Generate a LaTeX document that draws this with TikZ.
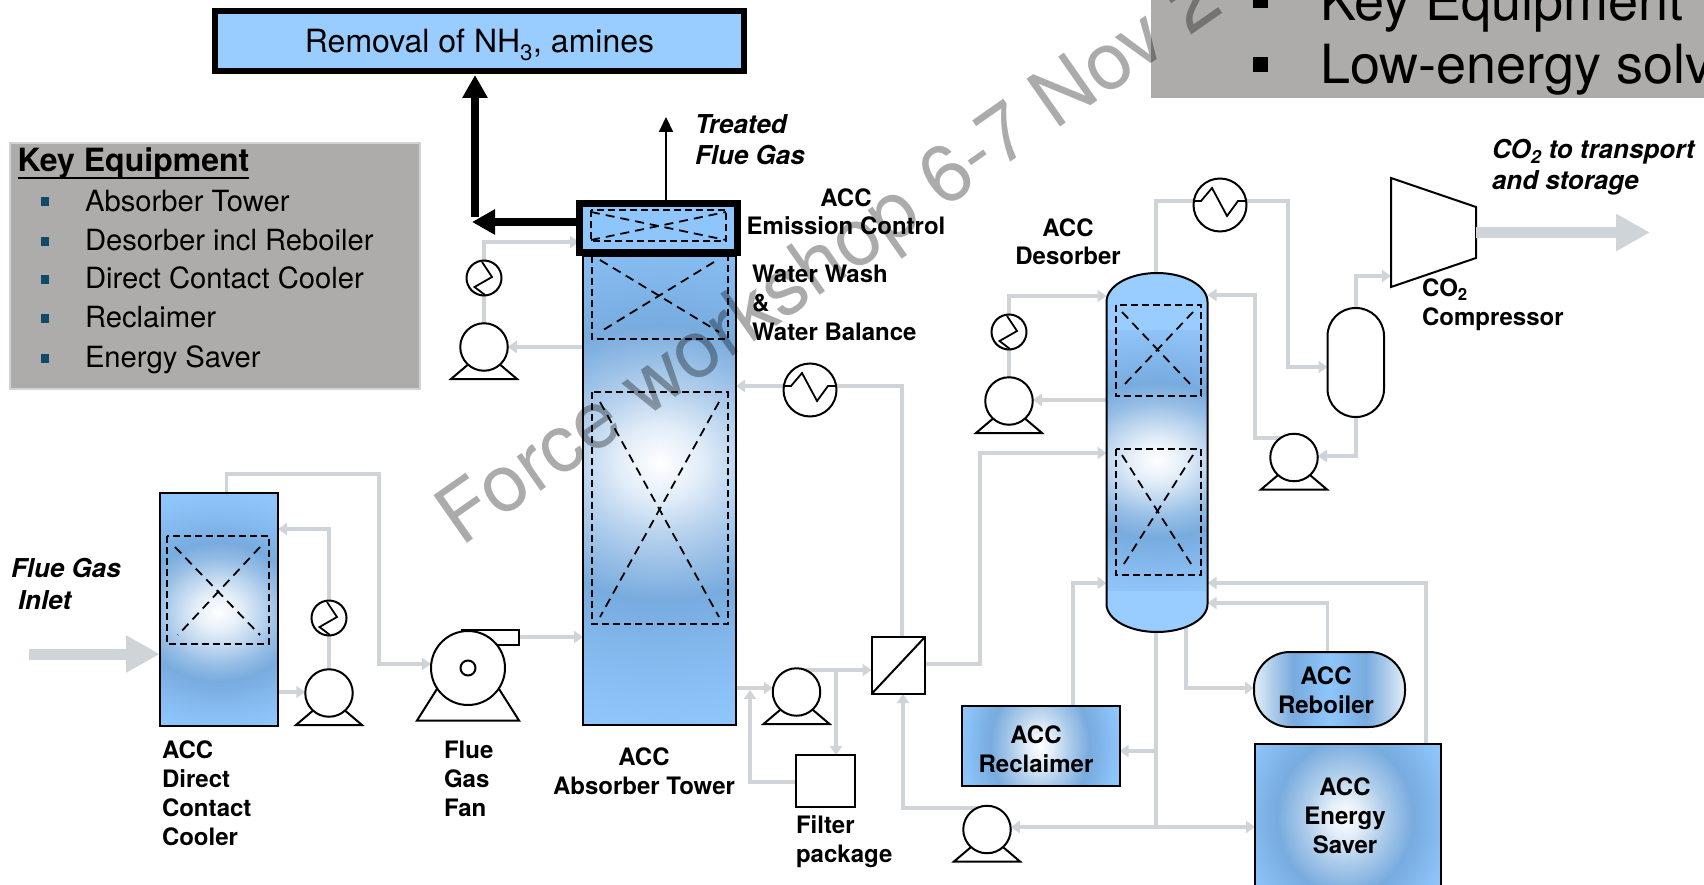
\documentclass[tikz,border=0pt]{standalone}
\usepackage{fontspec}
\setmainfont{TeX Gyre Heros}
\usetikzlibrary{arrows.meta}
\definecolor{midblue}{HTML}{78ABDE}
\definecolor{outblue}{HTML}{8EC6FC}
\definecolor{paleblue}{HTML}{99CCFF}
\definecolor{bandblue}{HTML}{90C4F8}
\definecolor{pipegray}{HTML}{CFD4D8}
\definecolor{panelgray}{HTML}{ADACAA}
\definecolor{bullet}{HTML}{0F4A66}
\pgfdeclareradialshading{towerglow}{\pgfpointorigin}{color(0bp)=(white);color(3.5bp)=(white!78!midblue);color(7bp)=(white!45!midblue);color(10bp)=(white!22!midblue);color(13bp)=(midblue);color(17bp)=(midblue!60!outblue);color(25bp)=(outblue);color(100bp)=(outblue)}
\pgfdeclareradialshading{coolerglow}{\pgfpointorigin}{color(0bp)=(white);color(4bp)=(white!80!midblue);color(8bp)=(white!48!midblue);color(11bp)=(white!22!midblue);color(14.5bp)=(midblue);color(19bp)=(midblue!50!outblue);color(25bp)=(outblue);color(100bp)=(outblue)}
\pgfdeclareradialshading{desorberglow}{\pgfpointorigin}{color(0bp)=(white);color(4bp)=(white!80!midblue);color(8bp)=(white!48!midblue);color(11bp)=(white!22!midblue);color(15bp)=(midblue);color(20bp)=(midblue!50!bandblue);color(25bp)=(bandblue);color(100bp)=(bandblue)}
\pgfdeclareradialshading{boxglow}{\pgfpointorigin}{color(0bp)=(white);color(4bp)=(white!78!midblue);color(9bp)=(white!40!midblue);color(15.5bp)=(midblue);color(25bp)=(outblue);color(100bp)=(outblue)}
\pgfdeclarehorizontalshading{reboilerglow}{100bp}{color(0bp)=(white!80!midblue);color(25bp)=(white!80!midblue);color(31bp)=(white!40!midblue);color(38bp)=(midblue);color(50bp)=(outblue);color(62bp)=(midblue);color(69bp)=(white!40!midblue);color(75bp)=(white!80!midblue);color(100bp)=(white!80!midblue)}
\pgfdeclarelayer{pipes}
\pgfsetlayers{pipes,main}
\tikzset{
  eq/.style={draw=black,line width=2pt,inner sep=0pt,outer sep=0pt},
  ghost/.style={inner sep=0pt,outer sep=0pt},
  packing/.style={draw=black,line width=2pt,dash pattern=on 7pt off 4pt},
  cross/.style={draw=black,line width=1.8pt,dash pattern=on 9pt off 6pt},
  pipe/.style={draw=pipegray,line width=3.5pt,line join=miter},
  flow/.style={pipe,-{Triangle[length=9pt,width=12pt]}},
  gas/.style={draw=pipegray,line width=11pt,-{Triangle[length=34pt,width=35pt]}},
  heavy/.style={draw=black,line width=8pt,-{Triangle[length=23pt,width=24pt]}},
  lbl/.style={inner sep=0pt,outer sep=0pt,font=\fontsize{24}{28.7}\selectfont\bfseries},
  lbli/.style={inner sep=0pt,outer sep=0pt,font=\fontsize{26}{31.5}\selectfont\bfseries\itshape},
  item/.style={inner sep=0pt,outer sep=0pt,anchor=base west,font=\fontsize{29.2}{34}\selectfont},
  bigtext/.style={inner sep=0pt,outer sep=0pt,anchor=base west,font=\fontsize{54}{60}\selectfont},
}
\newcommand{\pumpunit}[3]{%
  \draw[eq,fill=white] (#2-33,#3+32) -- (#2+33,#3+32) -- (#2,#3+4) -- cycle;
  \node[eq,fill=white,circle,minimum size=47.5pt] (#1) at (#2,#3) {};}
\newcommand{\smallhx}[3]{%
  \node[eq,fill=white,circle,minimum size=35pt] (#1) at (#2,#3) {};
  \draw[black,line width=1.8pt] (#2-2,#3-16) -- (#2+8,#3-1) -- (#2-9.5,#3+9) -- (#2+1,#3+17);}
\newcommand{\bighx}[3]{%
  \node[eq,fill=white,circle,minimum size=53pt] (#1) at (#2,#3) {};
  \draw[black,line width=1.8pt] (#2-25,#3-4) -- (#2-19,#3-4) -- (#2-8,#3-17) -- (#2+7,#3+11) -- (#2+18,#3-4) -- (#2+25,#3-4);}
\begin{document}
\begin{tikzpicture}[x=1pt,y=-1pt]
\useasboundingbox (0,0) rectangle (1704,885);
\clip (0,0) rectangle (1704,885);

% top panels
\node[ghost,fill=panelgray,minimum width=560pt,minimum height=108pt] (toppanel) at (1431,44) {};
\fill[black] (1253,-4) rectangle (1268,8);
\fill[black] (1253,57) rectangle (1268,72);
\node[bigtext] (topa) at (1320,21) {Key Equipment};
\node[bigtext] (topb) at (1320,84) {Low-energy solv};

\node[draw=black,line width=6pt,fill=paleblue,inner sep=0pt,outer sep=0pt,minimum width=529pt,minimum height=60pt,text height=24pt,text depth=0pt,font=\fontsize{32}{38}\selectfont] (removal) at (479.5,41) {Removal of NH\textsubscript{3}, amines};

% key equipment panel
\node[draw=pipegray,line width=2.5pt,fill=panelgray,inner sep=0pt,outer sep=0pt,minimum width=410pt,minimum height=246pt] (keybox) at (215,266) {};
\node[inner sep=0pt,outer sep=0pt,anchor=base west,font=\fontsize{32}{38}\selectfont\bfseries] (keytitle) at (17.5,172) {Key Equipment};
\draw[black,line width=2.5pt] ([yshift=-6pt]keytitle.base west) -- ([yshift=-6pt]keytitle.base east);
\foreach \yy in {202,242,279,318,358} {\fill[bullet] (41,\yy-4.5) rectangle (49,\yy+4.5);}
\node[item] (ka) at (85,212) {Absorber Tower};
\node[item] (kb) at (85,251) {Desorber incl Reboiler};
\node[item] (kc) at (85,288) {Direct Contact Cooler};
\node[item] (kd) at (85,327) {Reclaimer};
\node[item] (ke) at (85,367) {Energy Saver};

% direct contact cooler
\begin{scope}
\clip (160,493) rectangle (278,726);
\shade[shading=coolerglow] (78,492) rectangle (358,732);
\end{scope}
\node[eq,minimum width=118pt,minimum height=233pt] (dcc) at (219,609.5) {};
\draw[packing] (167,536) rectangle (269,644);
\draw[cross] (175,547) -- (260,635);
\draw[cross] (260,547) -- (178,635);

% absorber
\begin{scope}
\clip (583,256) rectangle (736,725);
\shade[shading=towerglow] (360,198) rectangle (960,728);
\end{scope}
\node[eq,minimum width=153pt,minimum height=469pt] (absorber) at (659.5,490.5) {};
\draw[packing] (592,256) -- (592,339) -- (727.5,339) -- (727.5,256);
\draw[cross] (600,260) -- (719,332);
\draw[cross] (714,262) -- (600,332);
\draw[packing] (592,392) rectangle (727.5,624);
\draw[cross] (600,402) -- (719,617);
\draw[cross] (719,402) -- (600,617);
\node[draw=black,line width=7pt,fill=outblue,inner sep=0pt,outer sep=0pt,minimum width=158pt,minimum height=49pt] (emission) at (658,228) {};
\draw[packing] (591,210) rectangle (726,241);
\draw[cross] (591,212) -- (726,240);
\draw[cross] (591,240) -- (726,212);

% desorber
\node[ghost,minimum width=101pt,minimum height=359pt] (desorber) at (1157,452.5) {};
\begin{scope}
\clip (1106.5,302) arc[start angle=180,end angle=0,x radius=50.5pt,y radius=29pt] -- (1207.5,604) arc[start angle=0,end angle=-180,x radius=50.5pt,y radius=28pt] -- cycle;
\fill[paleblue] (1100,270) rectangle (1214,640);
\shade[shading=desorberglow] (987,330) rectangle (1327,590);
\end{scope}
\draw[eq] (1106.5,302) arc[start angle=180,end angle=0,x radius=50.5pt,y radius=29pt] -- (1207.5,604) arc[start angle=0,end angle=-180,x radius=50.5pt,y radius=28pt] -- cycle;
\draw[packing] (1115.5,305) rectangle (1200.5,396);
\draw[cross] (1122,312) -- (1193,387);
\draw[cross] (1193,312) -- (1122,387);
\draw[packing] (1115.5,449) rectangle (1200.5,575);
\draw[cross] (1122,455) -- (1193,567);
\draw[cross] (1193,455) -- (1122,567);

% reboiler, reclaimer, energy saver
\begin{scope}
\clip[rounded corners=36pt] (1254,652) rectangle (1405,727);
\shade[shading=reboilerglow] (1254,652) rectangle (1405,727);
\end{scope}
\node[eq,rounded corners=36pt,minimum width=151pt,minimum height=75pt] (reboiler) at (1329.5,689.5) {};
\begin{scope}
\clip (962,706) rectangle (1119.5,786);
\shade[shading=boxglow] (960,636) rectangle (1120,856);
\end{scope}
\node[eq,minimum width=157.5pt,minimum height=80pt] (reclaimer) at (1040.75,746) {};
\begin{scope}
\clip (1255,744) rectangle (1441,900);
\shade[shading=boxglow] (1235,692) rectangle (1455,942);
\end{scope}
\node[eq,minimum width=186pt,minimum height=156pt] (saver) at (1348,822) {};

% rotating equipment and exchangers
\pumpunit{pumpa}{329}{693}
\pumpunit{pumpb}{484}{347}
\pumpunit{pumpc}{796.5}{692}
\pumpunit{pumpd}{1009}{401}
\pumpunit{pumpe}{1294}{457.5}
\pumpunit{pumpf}{987}{829.5}
\smallhx{hxa}{329}{618}
\smallhx{hxb}{484}{278}
\smallhx{hxc}{1009}{332}
\bighx{hxd}{810}{390}
\bighx{hxe}{1220}{205}
% fan
\draw[eq,fill=white] (417,720.5) -- (519,720.5) -- (468,640) -- cycle;
\node[eq,fill=white,minimum width=57pt,minimum height=15pt] (fanout) at (490.5,637.5) {};
\node[eq,fill=white,circle,minimum size=74pt] (fan) at (468,668) {};
\node[eq,fill=white,circle,minimum size=15pt] (fanhub) at (468,668) {};
% membrane, filter, separator, compressor
\node[eq,fill=white,minimum width=53.5pt,minimum height=57pt] (membrane) at (898.25,665.5) {};
\draw[black,line width=2pt] (membrane.south west) -- (membrane.north east);
\node[eq,fill=white,minimum width=59pt,minimum height=52pt] (filter) at (825.5,781) {};
\node[eq,fill=white,rounded corners=28pt,minimum width=56.5pt,minimum height=109pt] (separator) at (1355.75,362.5) {};
\coordinate (compa) at (1391,178);
\coordinate (compb) at (1476,207);
\coordinate (compc) at (1476,258);
\coordinate (compd) at (1391,287);
\draw[eq,fill=white] (compa) -- (compb) -- (compc) -- (compd) -- cycle;

% connectors
\begin{pgfonlayer}{pipes}
\draw[flow] (dcc.north -| 226.5,0) |- (379,474) |- (fan.west |- 0,664);
\draw[flow] (dcc.east |- 0,692) -- (pumpa.west |- 0,692);
\draw[pipe] (pumpa) -- (hxa);
\draw[flow] (hxa) |- (dcc.east |- 0,529);
\draw[flow] (fanout.east |- 0,637) -- (absorber.west |- 0,637);
\draw[flow] (absorber.east |- 0,688) -- (pumpc.west |- 0,688);
\draw[flow] (filter.west |- 0,782) -| (750,690);
\draw[flow] (pumpc.center |- 0,670) -- (membrane.west |- 0,670);
\draw[flow] (836,670) -- (filter.north -| 836,0);
\draw[pipe] (membrane.north -| 902,0) |- (hxd.east |- 0,386);
\draw[flow] (hxd.west |- 0,386) -- (absorber.east |- 0,386);
\draw[flow] (membrane.east |- 0,664) -| (980,453) -- (desorber.west |- 0,453);
\draw[flow] (pumpf.center |- 0,808) -| (membrane.south -| 903,0);
\draw[pipe] (desorber.south -| 1156,0) -- (1156,827);
\draw[flow] (1156,827) -- (pumpf.east |- 0,827);
\draw[flow] (1156,827) -- (saver.west |- 0,827);
\draw[flow] (1156,751) -- (reclaimer.east |- 0,751);
\draw[flow] (reclaimer.north -| 1073,0) |- (desorber.west |- 0,583);
\draw[flow] (1186,625) |- (reboiler.west |- 0,688);
\draw[flow] (reboiler.north -| 1327.5,0) |- (desorber.east |- 0,603);
\draw[flow] (saver.north -| 1426,0) |- (desorber.east |- 0,583);
\draw[pipe] (desorber.north -| 1156,0) |- (hxe.center |- 0,201);
\draw[flow] (hxe.center |- 0,201) -| (1288,367) -- (separator.west |- 0,367);
\draw[flow] (separator.north) |- (compd |- 0,276);
\draw[flow] (separator.south) |- (pumpe.east |- 0,456);
\draw[flow] (pumpe.center |- 0,438) -| (1255,295) -- (desorber.east |- 0,295);
\draw[pipe] (pumpd) -- (hxc);
\draw[flow] (hxc) |- (desorber.west |- 0,296);
\draw[flow] (desorber.west |- 0,400) -- (pumpd.east |- 0,400);
\draw[flow] (absorber.west |- 0,347) -- (pumpb.east |- 0,347);
\draw[pipe] (pumpb) -- (hxb);
\draw[flow] (hxb) |- (emission.west |- 0,242);
\end{pgfonlayer}

% main streams
\coordinate (gasin) at (29,654);
\coordinate (gasout) at (1650,232.5);
\draw[gas] (gasin) -- (dcc.west |- gasin);
\draw[gas] (compb |- gasout) -- (gasout);
\coordinate (treated) at (666,117);
\draw[black,line width=2pt,-{Triangle[length=15pt,width=14pt]}] (emission.north -| treated) -- (treated);
\coordinate (washelbow) at (475,217);
\draw[heavy] (emission.west |- 0,222) -- (472,222);
\draw[heavy] (washelbow) -- ([yshift=-4pt]removal.south -| washelbow);

% labels (a multi-line node's base is the base of its last line)
\node[lbli,anchor=base west,align=left] (lblgasin) at (11,609) {Flue Gas\\\hspace*{7pt}Inlet};
\node[lbli,anchor=base west,align=left] (lbltreated) at (695,165) {Treated\\Flue Gas};
\node[lbli,anchor=base west,align=left] (lblco) at (1492,190) {CO\textsubscript{2} to transport\\and storage};
\node[lbl,anchor=base west,align=left] (lbldcc) at (162,845) {ACC\\Direct\\Contact\\Cooler};
\node[lbl,anchor=base west,align=left] (lblfan) at (444,816) {Flue\\Gas\\Fan};
\node[lbl,anchor=base,align=center] (lblabs) at (644,794) {ACC\\Absorber Tower};
\node[lbl,anchor=base,align=center] (lblem) at (846,235) {ACC\\Emission Control};
\node[lbl,anchor=base west,align=left] (lblwash) at (752,340) {Water Wash\\\&\\Water Balance};
\node[lbl,anchor=base,align=center] (lbldes) at (1068,265) {ACC\\Desorber};
\node[lbl,anchor=base west,align=left] (lblcomp) at (1422,325) {CO\textsubscript{2}\\Compressor};
\node[lbl,anchor=base west,align=left] (lblfilter) at (796,862) {Filter\\package};
\node[lbl,anchor=base,align=center] (lblreb) at (1326,713) {ACC\\Reboiler};
\node[lbl,anchor=base,align=center] (lblrec) at (1036,772) {ACC\\Reclaimer};
\node[lbl,anchor=base,align=center] (lblsav) at (1345,853) {ACC\\Energy\\Saver};

% watermark
\node[inner sep=0pt,outer sep=0pt,anchor=base west,rotate=35,text=black,text opacity=.33,font=\fontsize{80}{90}\selectfont] (watermark) at (461,547) {Force workshop 6-7 Nov 2};
\end{tikzpicture}
\end{document}
